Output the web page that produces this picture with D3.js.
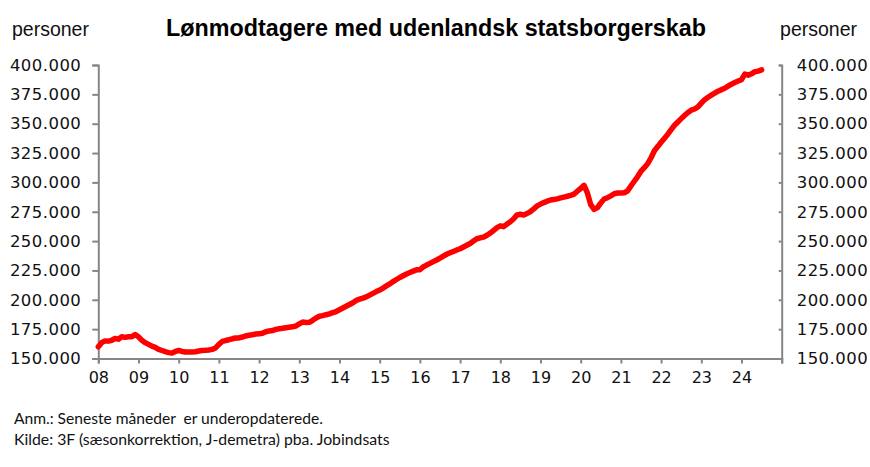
<!DOCTYPE html>
<html>
<head>
<meta charset="utf-8">
<script src="https://cdn.jsdelivr.net/npm/d3@7"></script>
<style>
  html, body { margin: 0; padding: 0; background: #fff; }
  svg { display: block; }
  text.note { white-space: pre; }
</style>
</head>
<body>
<svg id="chart" width="870" height="467"></svg>
<script>
// ---- Data (monthly, thousands of persons), Jan 2008 - Jul 2024 ----
const startYear = 2008;
const v2008 = [160, 163.5, 165, 164.8, 165.5, 167, 166.5, 168.5, 168, 168.5, 168.5, 170.5];
const v2009 = [168.5, 165.5, 163.5, 162, 160.5, 159.5, 157.8, 156.8, 155.8, 155, 154.6, 156];
const v2010 = [156.8, 156, 155.5, 155.6, 155.5, 155.8, 156.4, 156.8, 157, 157.3, 157.8, 159];
const v2011 = [162, 164.5, 165.3, 166, 166.8, 167.5, 167.5, 168.3, 169.2, 169.8, 170.3, 170.8];
const v2012 = [171, 171.5, 172.8, 173.5, 173.8, 174.8, 175.3, 175.7, 176.2, 176.6, 177, 177.7];
const v2013 = [179.5, 181, 180.7, 180.8, 182.5, 184.5, 186, 186.5, 187.3, 188, 189, 190];
const v2014 = [191.5, 193, 194.5, 196, 197.5, 199.5, 200.5, 201.5, 202.5, 204, 205.5, 207];
const v2015 = [208.3, 210, 211.8, 213.5, 215.5, 217.3, 219, 220.5, 222, 223.2, 224.4, 225.5];
const v2016 = [225.6, 228, 229.6, 231, 232.5, 233.9, 235.5, 237.2, 238.8, 240, 241.2, 242.4];
const v2017 = [243.5, 245, 246.5, 248, 250, 252, 252.8, 253.4, 255, 256.8, 259, 261.5];
const v2018 = [263, 262.3, 264.5, 266.5, 269, 272.3, 272.8, 272.3, 273.5, 275.2, 277.5, 280];
const v2019 = [281.5, 282.8, 284, 285, 285.5, 286, 286.8, 287.5, 288.2, 289, 290, 292.5];
const v2020 = [294.8, 297.5, 291, 281, 277, 278.5, 282.5, 285.8, 287, 288.5, 290.3, 291];
const v2021 = [291, 291.2, 292.8, 297, 301, 305, 309.5, 312.5, 316, 321, 327, 330.5];
const v2022 = [334.2, 337.5, 341, 345, 348.7, 351.5, 354.3, 357, 359.5, 361.5, 362.5, 364.3];
const v2023 = [367.5, 370.5, 372.5, 374.3, 376, 377.7, 379, 380.2, 382, 383.7, 385, 386.3];
const v2024 = [387.5, 392.3, 391.3, 392.5, 394.3, 394.8, 395.8];

const yTicks = [150000, 175000, 200000, 225000, 250000, 275000, 300000, 325000, 350000, 375000, 400000];
const yearLabels = ["08","09","10","11","12","13","14","15","16","17","18","19","20","21","22","23","24"];

const titleText = "Lønmodtagere med udenlandsk statsborgerskab";
const unitText = "personer";
const note1 = "Anm.: Seneste måneder  er underopdaterede.";
const note2 = "Kilde: 3F (sæsonkorrektion, J-demetra) pba. Jobindsats";

const monthly = [].concat(v2008, v2009, v2010, v2011, v2012, v2013, v2014, v2015,
  v2016, v2017, v2018, v2019, v2020, v2021, v2022, v2023, v2024)
  .map((v, i) => ({ i, value: v * 1000 }));

// ---- Layout ----
const svg = d3.select("#chart");
const plot = { left: 98.3, right: 781.7, top: 65, bottom: 358.5 };
const totalMonths = 17 * 12; // axis spans 2008 .. 2025

const x = d3.scaleLinear().domain([0, totalMonths]).range([plot.left, plot.right]);
const y = d3.scaleLinear().domain([150000, 400000]).range([plot.bottom, plot.top]);

const fmt = v => d3.format(",")(v).replace(/,/g, ".");
const axisColor = "#868686";
const tickFont = "'DejaVu Sans', Verdana, sans-serif";

// Left axis
const leftAxis = d3.axisLeft(y).tickValues(yTicks).tickFormat(fmt).tickSize(6).tickPadding(11);
const gl = svg.append("g").attr("transform", `translate(${plot.left},0)`).call(leftAxis);

// Right axis
const rightAxis = d3.axisRight(y).tickValues(yTicks).tickFormat(fmt).tickSize(-3).tickPadding(15);
const gr = svg.append("g").attr("transform", `translate(${plot.right},0)`).call(rightAxis);

// Bottom axis
const bottomTicks = d3.range(0, totalMonths + 1, 12);
const bottomAxis = d3.axisBottom(x).tickValues(bottomTicks)
  .tickFormat(d => yearLabels[d / 12] || "").tickSize(5).tickPadding(8);
const gb = svg.append("g").attr("transform", `translate(0,${plot.bottom})`).call(bottomAxis);

[gl, gr, gb].forEach(g => {
  g.select(".domain").attr("stroke", axisColor).attr("stroke-width", 2);
  g.selectAll(".tick line").attr("stroke", axisColor).attr("stroke-width", 2);
  g.selectAll(".tick text").attr("fill", "#111").style("font-family", tickFont)
    .style("font-size", "16.5px").style("letter-spacing", "0.45px");
});
gb.selectAll(".tick text").style("font-size", "16px").style("letter-spacing", "0px");

// Line
const line = d3.line().x(d => x(d.i)).y(d => y(d.value));
svg.append("path")
  .datum(monthly)
  .attr("fill", "none")
  .attr("stroke", "#ff0000")
  .attr("stroke-width", 5.5)
  .attr("stroke-linejoin", "round")
  .attr("stroke-linecap", "round")
  .attr("d", line);

// Titles
svg.append("text").attr("x", 436).attr("y", 36).attr("text-anchor", "middle")
  .style("font-family", "'Liberation Sans', Arial, sans-serif").style("font-weight", "bold")
  .style("font-size", "23.3px").attr("fill", "#000").text(titleText);

svg.append("text").attr("x", 12).attr("y", 36)
  .style("font-family", "'Liberation Sans', Arial, sans-serif").style("font-size", "19.5px")
  .attr("fill", "#111").text(unitText);
svg.append("text").attr("x", 857).attr("y", 36).attr("text-anchor", "end")
  .style("font-family", "'Liberation Sans', Arial, sans-serif").style("font-size", "19.5px")
  .attr("fill", "#111").text(unitText);

// Footnotes
svg.append("text").attr("class", "note").attr("x", 14).attr("y", 424)
  .style("font-family", "Lato, 'Open Sans', sans-serif").style("font-size", "15.6px")
  .attr("fill", "#111").text(note1);
svg.append("text").attr("class", "note").attr("x", 14).attr("y", 445)
  .style("font-family", "Lato, 'Open Sans', sans-serif").style("font-size", "15.8px")
  .attr("fill", "#111").text(note2);
</script>
</body>
</html>
